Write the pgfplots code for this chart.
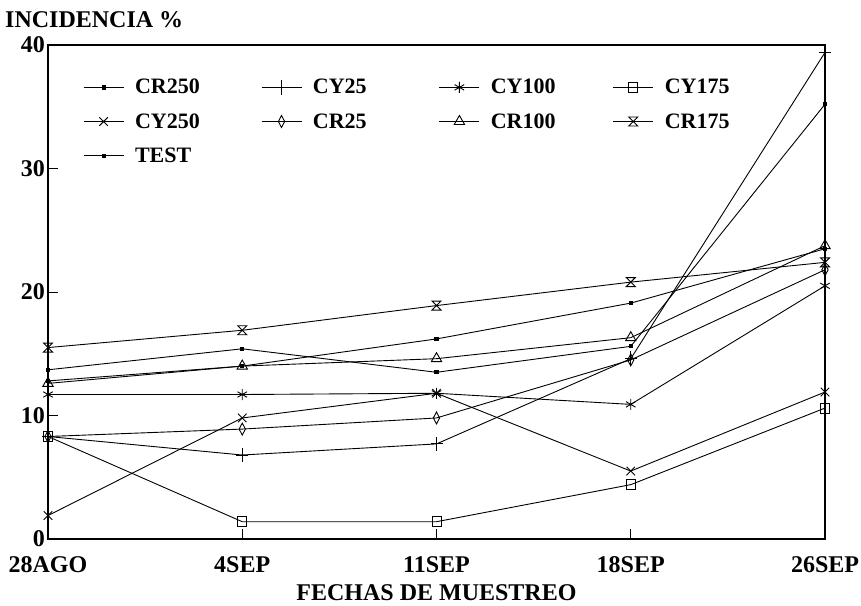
\documentclass[border=0pt]{standalone}
\usepackage{fontspec}
\setmainfont{Liberation Serif}
\usepackage{pgfplots}
\pgfplotsset{compat=1.18}
\pgfdeclareplotmark{hourglass}{%
  \pgfpathmoveto{\pgfqpoint{-\pgfplotmarksize}{\pgfplotmarksize}}%
  \pgfpathlineto{\pgfqpoint{\pgfplotmarksize}{\pgfplotmarksize}}%
  \pgfpathlineto{\pgfqpoint{-\pgfplotmarksize}{-\pgfplotmarksize}}%
  \pgfpathlineto{\pgfqpoint{\pgfplotmarksize}{-\pgfplotmarksize}}%
  \pgfpathclose
  \pgfusepathqstroke}
\newcommand{\lf}{\fontsize{24}{28}\selectfont\bfseries}
\newcommand{\legf}{\fontsize{22}{26}\selectfont\bfseries}
\begin{document}
\begin{tikzpicture}
\begin{axis}[name=ax, width=777pt, height=494pt, scale only axis,
  xmin=0, xmax=4, ymin=0, ymax=40,
  xtick={0,1,2,3,4}, xticklabels={28AGO,4SEP,11SEP,18SEP,26SEP},
  ytick={0,10,20,30,40},
  tick align=inside, xtick pos=bottom, ytick pos=left,
  major tick length=10pt,
  /pgf/number format/assume math mode=true,
  tick label style={font=\lf},
  xticklabel style={yshift=-16pt, inner sep=1pt},
  yticklabel style={xshift=-2pt, inner sep=1pt},
  label style={font=\lf},
  xlabel={FECHAS DE MUESTREO},
  xlabel style={yshift=-8pt},
  axis line style={line width=1.1pt},
  every tick/.style={black, line width=0.8pt},
  legend style={at={(0.045,0.935)}, anchor=north west, draw=none, fill=none,
    font=\legf, row sep=14pt, inner sep=0pt,
    /tikz/every odd column/.append style={column sep=9pt}},
  legend columns=4,
  legend cell align=left,
  legend image code/.code={\draw[#1, mark repeat=2, mark phase=2] plot coordinates {(0pt,0pt) (20pt,0pt) (40pt,0pt)};},
  every axis plot/.append style={black, line width=0.9pt},
]
% CR250
\addplot[mark=square*, mark size=1.6pt] coordinates {(0,12.8) (1,14.0) (2,16.2) (3,19.1) (4,23.5)};
\addlegendentry{\makebox[124pt][l]{CR250}}
% CY25
\addplot[mark=+, mark size=6pt, mark options={yscale=1.2}] coordinates {(0,8.3) (1,6.8) (2,7.7) (3,14.6) (4,39.4)};
\addlegendentry{\makebox[124pt][l]{CY25}}
% CY100
\addplot[mark=asterisk, mark size=5.5pt] coordinates {(0,11.7) (1,11.7) (2,11.8) (3,10.9) (4,20.5)};
\addlegendentry{\makebox[120pt][l]{CY100}}
% CY175
\addplot[mark=square, mark size=4.5pt, mark options={yscale=1.1}] coordinates {(0,8.3) (1,1.4) (2,1.4) (3,4.4) (4,10.6)};
\addlegendentry{CY175}
% CY250
\addplot[mark=x, mark size=6pt] coordinates {(0,1.9) (1,9.8) (2,11.8) (3,5.5) (4,11.9)};
\addlegendentry{\makebox[124pt][l]{CY250}}
% CR25
\addplot[mark=diamond, mark size=6pt, mark options={xscale=0.7}] coordinates {(0,8.3) (1,8.9) (2,9.8) (3,14.5) (4,21.8)};
\addlegendentry{\makebox[124pt][l]{CR25}}
% CR100
\addplot[mark=triangle, mark size=6pt] coordinates {(0,12.6) (1,14.0) (2,14.6) (3,16.3) (4,23.75)};
\addlegendentry{\makebox[120pt][l]{CR100}}
% CR175
\addplot[mark=hourglass, mark size=4.5pt] coordinates {(0,15.5) (1,16.9) (2,18.9) (3,20.8) (4,22.4)};
\addlegendentry{CR175}
% TEST
\addplot[mark=square*, mark size=1.6pt] coordinates {(0,13.7) (1,15.4) (2,13.5) (3,15.6) (4,35.2)};
\addlegendentry{TEST}
\end{axis}
\node[anchor=south west, font=\lf, inner sep=0pt] at ([xshift=-43pt,yshift=17pt]ax.north west) {INCIDENCIA \%};
\pgfresetboundingbox
\path[use as bounding box] ([xshift=-48pt,yshift=-67pt]ax.south west) rectangle ([xshift=36pt,yshift=45pt]ax.north east);
\end{tikzpicture}
\end{document}
